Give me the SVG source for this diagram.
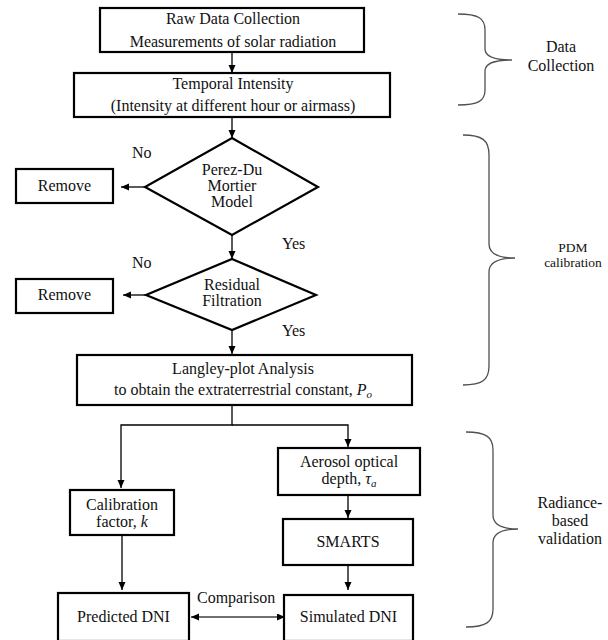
<svg xmlns="http://www.w3.org/2000/svg" width="608" height="640" viewBox="0 0 608 640">
<style>
  .box { fill: #ffffff; stroke: #000000; stroke-width: 2.2; }
  .dia { fill: #ffffff; stroke: #000000; stroke-width: 2.2; }
  text { font-family: "Liberation Serif", "DejaVu Serif", serif; }
  .t { font-size: 16px; fill: #111111; text-anchor: middle; }
  .ts { font-size: 13.5px; fill: #111111; text-anchor: middle; }
  .tl { font-size: 16px; fill: #111111; }
  .c { fill: none; stroke: #000000; stroke-width: 1.3; }
  .cmp { fill: none; stroke: #707070; stroke-width: 2; }
  .brace { fill: none; stroke: #505050; stroke-width: 1.3; }
</style>
<defs>
  <marker id="ah" markerUnits="userSpaceOnUse" markerWidth="9" markerHeight="8" refX="8" refY="3.5" orient="auto-start-reverse">
    <path d="M0,0 L8,3.5 L0,7 Z" fill="#000000"/>
  </marker>
</defs>

<g id="connectors">
  <line class="c" x1="232" y1="52" x2="232" y2="73" marker-end="url(#ah)"/>
  <line class="c" x1="232" y1="117" x2="232" y2="138" marker-end="url(#ah)"/>
  <line class="c" x1="145" y1="187" x2="121" y2="187" marker-end="url(#ah)"/>
  <line class="c" x1="232" y1="235" x2="232" y2="259" marker-end="url(#ah)"/>
  <line class="c" x1="146" y1="295" x2="123" y2="295" marker-end="url(#ah)"/>
  <line class="c" x1="232" y1="330" x2="232" y2="354" marker-end="url(#ah)"/>
  <polyline class="c" points="232,405 232,425 121,425 121,488" marker-end="url(#ah)"/>
  <polyline class="c" points="232,425 348,425 348,447" marker-end="url(#ah)"/>
  <line class="c" x1="348" y1="495" x2="348" y2="518" marker-end="url(#ah)"/>
  <line class="c" x1="348" y1="565" x2="348" y2="590" marker-end="url(#ah)"/>
  <line class="c" x1="122" y1="535" x2="122" y2="590" marker-end="url(#ah)"/>
  <line class="cmp" x1="191" y1="617" x2="285" y2="617" marker-start="url(#ah)" marker-end="url(#ah)"/>
  <text class="tl" x="197" y="603">Comparison</text>
  <text class="tl" x="132" y="158">No</text>
  <text class="tl" x="282" y="249">Yes</text>
  <text class="tl" x="132" y="268">No</text>
  <text class="tl" x="282" y="336">Yes</text>
</g>

<g id="raw-data">
  <rect class="box" x="100" y="8" width="264" height="44"/>
  <text class="t" x="233" y="24">Raw Data Collection</text>
  <text class="t" x="233" y="47">Measurements of solar radiation</text>
</g>

<g id="temporal-intensity">
  <rect class="box" x="74" y="73" width="316" height="44"/>
  <text class="t" x="233" y="89">Temporal Intensity</text>
  <text class="t" x="233" y="111">(Intensity at different hour or airmass)</text>
</g>

<g id="pdm-model">
  <polygon class="dia" points="232,138 318,187 232,235 145,187"/>
  <text class="t" x="232" y="175">Perez-Du</text>
  <text class="t" x="232" y="191">Mortier</text>
  <text class="t" x="232" y="207">Model</text>
</g>

<g id="remove-1">
  <rect class="box" x="16" y="169" width="97" height="34"/>
  <text class="t" x="64.5" y="191">Remove</text>
</g>

<g id="residual-filtration">
  <polygon class="dia" points="232,259 316,295 232,330 146,295"/>
  <text class="t" x="232" y="290">Residual</text>
  <text class="t" x="232" y="306">Filtration</text>
</g>

<g id="remove-2">
  <rect class="box" x="16" y="279" width="97" height="34"/>
  <text class="t" x="64.5" y="300">Remove</text>
</g>

<g id="langley">
  <rect class="box" x="77" y="355" width="335" height="50"/>
  <text class="t" x="243" y="374">Langley-plot Analysis</text>
  <text class="t" x="243" y="395">to obtain the extraterrestrial  constant, <tspan font-style="italic">P</tspan><tspan font-style="italic" font-size="11" dy="3">o</tspan></text>
</g>

<g id="calibration-factor">
  <rect class="box" x="70" y="490" width="104" height="45"/>
  <text class="t" x="122" y="510">Calibration</text>
  <text class="t" x="122" y="527">factor, <tspan font-style="italic">k</tspan></text>
</g>

<g id="aerosol">
  <rect class="box" x="278" y="448" width="142" height="47"/>
  <text class="t" x="349" y="467">Aerosol optical</text>
  <text class="t" x="349" y="484">depth, <tspan font-style="italic">τ</tspan><tspan font-style="italic" font-size="11" dy="3">a</tspan></text>
</g>

<g id="smarts">
  <rect class="box" x="283" y="519" width="130" height="46"/>
  <text class="t" x="348" y="547">SMARTS</text>
</g>

<g id="predicted-dni">
  <rect class="box" x="58" y="593" width="131" height="48"/>
  <text class="t" x="123.5" y="622">Predicted DNI</text>
</g>

<g id="simulated-dni">
  <rect class="box" x="284" y="595" width="129" height="46"/>
  <text class="t" x="348.5" y="622">Simulated DNI</text>
</g>

<g id="brace-data-collection">
  <path class="brace" d="M458,14 C478,14 485,18 485,30 L485,49 C485,56 494,60 512,60 C494,60 485,64 485,71 L485,90 C485,101 478,105 458,105"/>
  <text class="t" x="561" y="52">Data</text>
  <text class="t" x="561" y="71">Collection</text>
</g>

<g id="brace-pdm">
  <path class="brace" d="M463,135 C482,135 489,140 489,155 L489,244 C489,253 498,258 515,258 C498,258 489,263 489,272 L489,366 C489,380 482,385 463,385"/>
  <text class="ts" x="573" y="252">PDM</text>
  <text class="ts" x="573" y="267">calibration</text>
</g>

<g id="brace-validation">
  <path class="brace" d="M466,432 C486,432 493,437 493,450 L493,515 C493,524 501,529 518,529 C501,529 493,534 493,543 L493,609 C493,622 486,627 466,627"/>
  <text class="t" x="570" y="508">Radiance-</text>
  <text class="t" x="570" y="526">based</text>
  <text class="t" x="570" y="544">validation</text>
</g>
</svg>
